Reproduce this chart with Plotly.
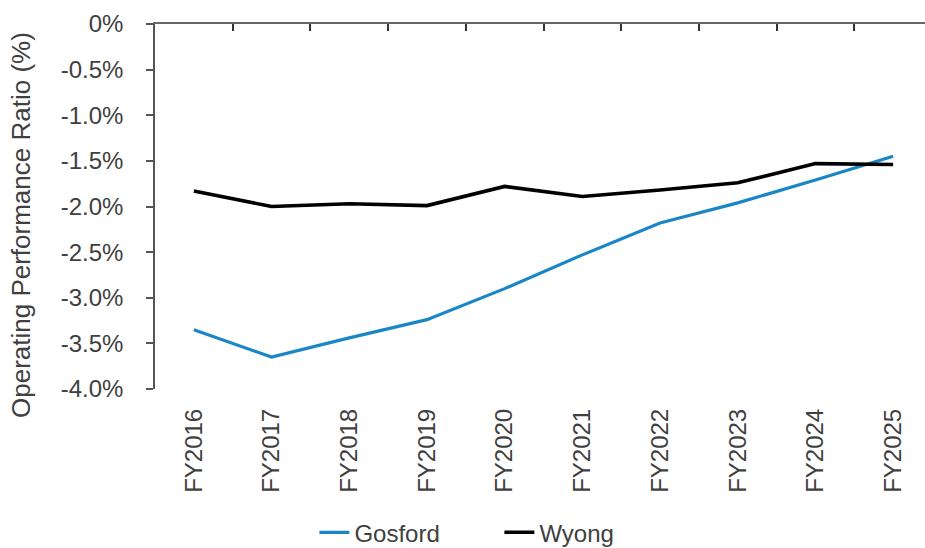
import plotly.graph_objects as go

years = ["FY2016", "FY2017", "FY2018", "FY2019", "FY2020",
         "FY2021", "FY2022", "FY2023", "FY2024", "FY2025"]
gosford = [-3.35, -3.65, -3.44, -3.24, -2.90, -2.53, -2.18, -1.96, -1.71, -1.45]
wyong = [-1.83, -2.00, -1.97, -1.99, -1.78, -1.89, -1.82, -1.74, -1.53, -1.54]
y_ticks = [0, -0.5, -1.0, -1.5, -2.0, -2.5, -3.0, -3.5, -4.0]
y_tick_text = ["0%", "-0.5%", "-1.0%", "-1.5%", "-2.0%", "-2.5%", "-3.0%", "-3.5%", "-4.0%"]
y_title = "Operating Performance Ratio (%)"

FONT = "Liberation Sans, Arial, sans-serif"
TEXT = "#404040"
AXIS = "#666666"

x_idx = list(range(len(years)))
x_range = [-0.5, 9.41]

fig = go.Figure()
fig.add_trace(go.Scatter(x=x_idx, y=gosford, name="Gosford", mode="lines",
                         line=dict(color="#1b86c6", width=3.2)))
fig.add_trace(go.Scatter(x=x_idx, y=wyong, name="Wyong", mode="lines",
                         line=dict(color="#000000", width=3.6)))
# invisible trace that carries the top category-boundary axis
fig.add_trace(go.Scatter(x=[x_range[0]], y=[0], xaxis="x2", mode="markers",
                         marker=dict(opacity=0), showlegend=False, hoverinfo="skip"))

fig.update_layout(
    width=925, height=548,
    margin=dict(l=155, r=0, t=24, b=159, autoexpand=False),
    paper_bgcolor="white", plot_bgcolor="white",
    font=dict(family=FONT, size=24, color=TEXT),
    xaxis=dict(
        range=x_range, tickmode="array", tickvals=x_idx, ticktext=years,
        tickangle=-90, showline=False, showgrid=False, zeroline=False,
        ticks="", ticklabelstandoff=14, automargin=False,
        tickfont=dict(size=24, color=TEXT),
    ),
    xaxis2=dict(
        overlaying="x", side="top", range=x_range,
        tickmode="array", tickvals=[i + 0.5 for i in x_idx[:-1]],
        showticklabels=False, ticks="inside", ticklen=7, tickwidth=1.5,
        tickcolor="#333333", showline=True, linecolor=AXIS, linewidth=2,
        showgrid=False, zeroline=False, automargin=False,
    ),
    yaxis=dict(
        range=[-4.0, 0], tickmode="array", tickvals=y_ticks, ticktext=y_tick_text,
        showline=True, linecolor="#555555", linewidth=1.5,
        ticks="outside", ticklen=7, tickwidth=1.5, tickcolor="#555555",
        showgrid=False, zeroline=False, ticklabelstandoff=18, automargin=False,
        tickfont=dict(size=24, color=TEXT),
    ),
    legend=dict(orientation="h", x=0.207, xanchor="left", y=-0.332, yanchor="top",
                entrywidth=140, entrywidthmode="pixels",
                font=dict(size=24, color=TEXT), bgcolor="rgba(0,0,0,0)"),
    showlegend=True,
    annotations=[dict(
        text=y_title, textangle=-90, xref="paper", yref="paper",
        x=-0.175, y=0.45, xanchor="center", yanchor="middle", showarrow=False,
        font=dict(size=26, color=TEXT),
    )],
)

fig.write_html("out.html")
